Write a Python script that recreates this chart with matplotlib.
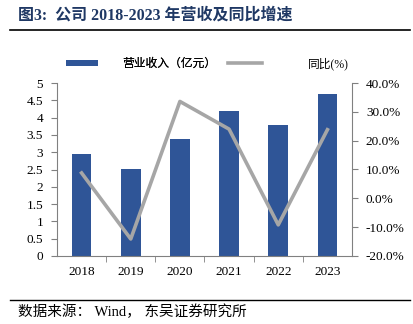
import numpy as np
import matplotlib
matplotlib.use("Agg")
import matplotlib.pyplot as plt
from matplotlib.ticker import FuncFormatter, FixedLocator

plt.rcParams['font.family'] = ['Liberation Serif', 'Noto Sans CJK SC']

years = ['2018', '2019', '2020', '2021', '2022', '2023']
revenue = [2.94, 2.51, 3.38, 4.18, 3.79, 4.69]
growth = [8.8, -14.1, 33.6, 24.0, -9.2, 23.8]

bar_color = '#2F5597'
line_color = '#A6A6A6'
axis_color = '#808080'

fig = plt.figure(figsize=(4.14, 3.24), dpi=100)
ax = fig.add_axes([57 / 414, 1 - 256 / 324, 295 / 414, 173 / 324])

x = np.arange(len(years))
ax.bar(x, revenue, width=0.4, color=bar_color, label='营业收入（亿元）', zorder=2)
ax.set_xlim(-0.5, len(years) - 0.5)
ax.set_ylim(0, 5)
ax.set_yticks(np.arange(0, 5.01, 0.5))
ax.yaxis.set_major_formatter(FuncFormatter(lambda v, p: f'{v:g}'))
ax.set_xticks(x)
ax.set_xticklabels(years)
ax.xaxis.set_minor_locator(FixedLocator(np.arange(0.5, len(years) - 1, 1)))
ax.tick_params(axis='x', which='major', length=0, pad=7)
ax.tick_params(axis='x', which='minor', length=4, direction='out', color=axis_color)
ax.tick_params(axis='y', length=4, direction='out', color=axis_color, pad=6)
ax.tick_params(labelsize=9.5)

ax2 = ax.twinx()
ax2.plot(x, growth, color=line_color, linewidth=2.6, label='同比(%)', zorder=3)
ax2.set_ylim(-20, 40)
ax2.set_yticks(np.arange(-20, 41, 10))
ax2.yaxis.set_major_formatter(FuncFormatter(lambda v, p: f'{v:.1f}%'))
ax2.tick_params(axis='y', length=4, direction='out', color=axis_color, labelsize=9.5, pad=6)

for a in (ax, ax2):
    a.spines['top'].set_visible(False)
    for s in ('left', 'right', 'bottom'):
        a.spines[s].set_color(axis_color)
        a.spines[s].set_linewidth(0.8)
ax.spines['right'].set_visible(False)
ax2.spines['left'].set_visible(False)
ax2.spines['bottom'].set_visible(False)

# two legends placed separately to match the spacing of the reference
h1, l1 = ax.get_legend_handles_labels()
h2, l2 = ax2.get_legend_handles_labels()
leg_y = 1 - 64 / 324
leg1 = fig.legend(h1, l1, loc='center left', bbox_to_anchor=(66 / 414, leg_y),
                  frameon=False, fontsize=8.5, borderpad=0, borderaxespad=0,
                  handlelength=2.7, handleheight=0.35, handletextpad=2.1)
fig.add_artist(leg1)
fig.legend(h2, l2, loc='center left', bbox_to_anchor=(228 / 414, leg_y),
           frameon=False, fontsize=8.5, borderpad=0, borderaxespad=0,
           handlelength=2.9, handletextpad=3.9)

fig.text(18 / 414, 1 - 16 / 324, '图3:  公司 2018-2023 年营收及同比增速', fontsize=11.5,
         fontweight='bold', color='#1F3864', va='center', ha='left')
fig.add_artist(plt.Line2D([10 / 414, 410 / 414], [1 - 30 / 324, 1 - 30 / 324], color='black', linewidth=1.2))
fig.add_artist(plt.Line2D([10 / 414, 410 / 414], [1 - 300 / 324, 1 - 300 / 324], color='black', linewidth=1.0))
fig.text(18 / 414, 1 - 312 / 324, '数据来源： Wind， 东吴证券研究所', fontsize=10.5,
         color='black', va='center', ha='left')

fig.savefig('out.png', dpi=100)
